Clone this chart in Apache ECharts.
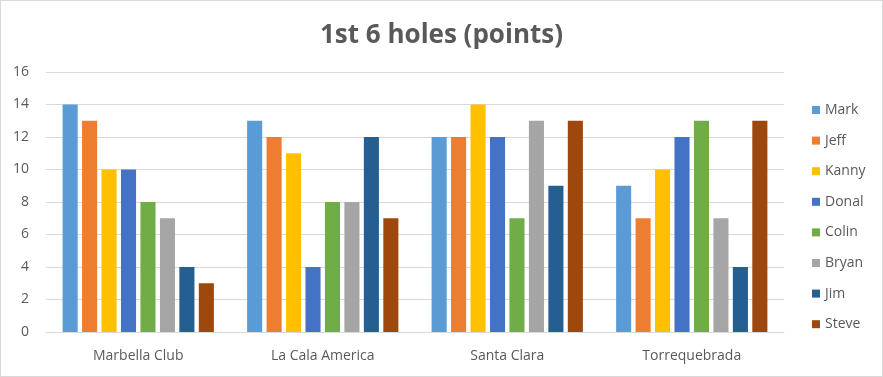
<!DOCTYPE html>
<html>
<head>
<meta charset="utf-8">
<script src="https://cdn.jsdelivr.net/npm/echarts@6/dist/echarts.min.js"></script>
<style>
  html, body { margin: 0; padding: 0; background: #fff; }
  #main { width: 883px; height: 377px; box-sizing: border-box; border: 1px solid #d9d9d9; }
</style>
</head>
<body>
<div id="main"></div>
<script>
// courses on the x axis
var courses = ['Marbella Club', 'La Cala America', 'Santa Clara', 'Torrequebrada'];
// one list of points per player
var players = ['Mark', 'Jeff', 'Kanny', 'Donal', 'Colin', 'Bryan', 'Jim', 'Steve'];
var mark  = [14, 13, 12, 9];
var jeff  = [13, 12, 12, 7];
var kanny = [10, 11, 14, 10];
var donal = [10, 4, 12, 12];
var colin = [8, 8, 7, 13];
var bryan = [7, 8, 13, 7];
var jim   = [4, 12, 9, 4];
var steve = [3, 7, 13, 13];
var yTicks = [0, 2, 4, 6, 8, 10, 12, 14, 16];

var lineColor = ['#5B9BD5', '#ED7D31', '#FFC000', '#4472C4', '#70AD47', '#A5A5A5', '#255E91', '#9E480E'];
var values = [mark, jeff, kanny, donal, colin, bryan, jim, steve];
var font = '"Open Sans", "Liberation Sans", sans-serif';

var myChart = echarts.init(document.getElementById('main'));

var series = [];
players.forEach(function (name, index) {
    series.push({
        name: name,
        type: 'bar',
        data: values[index],
        barGap: '29%',
        barCategoryGap: '18%',
        itemStyle: { color: lineColor[index] }
    });
});

var option = {
    animation: false,
    color: lineColor,
    title: {
        text: '1st 6 holes (points)',
        left: 'center',
        top: 17,
        textStyle: { color: '#595959', fontSize: 26, fontWeight: 'bold', fontFamily: font }
    },
    grid: {
        left: 45,
        right: 98,
        top: 71,
        bottom: 44
    },
    legend: {
        orient: 'vertical',
        left: 806,
        top: 97,
        itemWidth: 8,
        itemHeight: 8,
        itemGap: 16.6,
        icon: 'rect',
        data: players,
        textStyle: { color: '#595959', fontSize: 14, fontFamily: font }
    },
    xAxis: {
        type: 'category',
        data: courses,
        axisLine: { lineStyle: { color: '#d9d9d9' } },
        axisTick: { show: false },
        axisLabel: { color: '#595959', fontSize: 14, margin: 17, fontFamily: font }
    },
    yAxis: {
        type: 'value',
        min: yTicks[0],
        max: yTicks[yTicks.length - 1],
        interval: 2,
        axisLine: { show: false },
        axisTick: { show: false },
        splitLine: { lineStyle: { color: '#d9d9d9' } },
        axisLabel: { color: '#595959', fontSize: 14, margin: 17, fontFamily: font }
    },
    series: series
};

myChart.setOption(option);
</script>
</body>
</html>
